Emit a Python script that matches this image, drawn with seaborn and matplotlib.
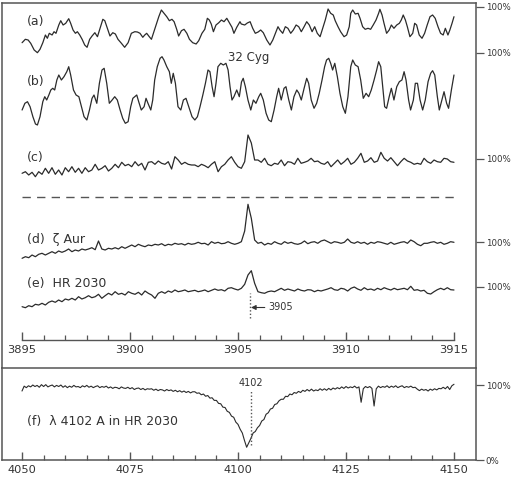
import numpy as np
import matplotlib
matplotlib.use("Agg")
import matplotlib.pyplot as plt
import seaborn as sns
from matplotlib.ticker import FixedLocator

sns.set_theme(style="white")
plt.rcParams['font.family'] = ['DejaVu Sans']

# ---- spectra (flux in %, wavelength in A) ----
# (a) 32 Cyg
wave_a = [3895.00, 3895.15, 3895.28, 3895.40, 3895.56, 3895.71, 3895.83, 3895.96,
          3896.08, 3896.17, 3896.26, 3896.39, 3896.48, 3896.57, 3896.70, 3896.79,
          3896.90, 3897.02, 3897.16, 3897.25, 3897.36, 3897.47, 3897.56, 3897.67,
          3897.78, 3897.90, 3898.01, 3898.13, 3898.24, 3898.37, 3898.49, 3898.61,
          3898.74, 3898.83, 3898.95, 3899.07, 3899.20, 3899.32, 3899.44, 3899.60,
          3899.75, 3899.91, 3900.06, 3900.22, 3900.34, 3900.46, 3900.59, 3900.68,
          3900.77, 3900.89, 3900.99, 3901.08, 3901.20, 3901.33, 3901.45, 3901.57,
          3901.70, 3901.82, 3901.94, 3902.04, 3902.16, 3902.25, 3902.38, 3902.50,
          3902.63, 3902.75, 3902.90, 3903.06, 3903.18, 3903.33, 3903.46, 3903.58,
          3903.67, 3903.76, 3903.86, 3903.98, 3904.11, 3904.23, 3904.35, 3904.48,
          3904.60, 3904.72, 3904.81, 3904.94, 3905.09, 3905.15, 3905.31, 3905.43,
          3905.56, 3905.68, 3905.80, 3905.93, 3906.05, 3906.17, 3906.33, 3906.48,
          3906.61, 3906.73, 3906.85, 3906.94, 3907.07, 3907.19, 3907.31, 3907.44,
          3907.56, 3907.69, 3907.81, 3907.93, 3908.06, 3908.18, 3908.30, 3908.43,
          3908.55, 3908.67, 3908.80, 3908.92, 3909.04, 3909.17, 3909.29, 3909.41,
          3909.50, 3909.63, 3909.75, 3909.91, 3910.03, 3910.15, 3910.22, 3910.31,
          3910.43, 3910.56, 3910.65, 3910.77, 3910.89, 3911.02, 3911.14, 3911.26,
          3911.39, 3911.51, 3911.57, 3911.67, 3911.76, 3911.88, 3912.00, 3912.10,
          3912.22, 3912.35, 3912.47, 3912.56, 3912.65, 3912.75, 3912.84, 3912.96,
          3913.09, 3913.18, 3913.27, 3913.39, 3913.52, 3913.64, 3913.76, 3913.89,
          3914.01, 3914.13, 3914.26, 3914.38, 3914.50, 3914.60, 3914.72, 3914.81,
          3914.91, 3915.00]
flux_a = [64.3, 67.7, 67, 63.7, 57, 54.3, 57.7, 64.3,
          72, 68.7, 73.7, 72, 75.3, 73.7, 82, 86.3,
          82, 83.7, 88.3, 83.7, 77, 73.7, 75.3, 72,
          67.7, 62, 59.7, 67.7, 71, 74.3, 70.3, 78.7,
          87.7, 86.3, 78.7, 71, 74.3, 73, 67.7, 63.7,
          59.7, 64.3, 73.7, 75.3, 75, 73.7, 69.7, 72,
          73.7, 70.3, 67.7, 73.7, 82, 90.3, 97, 93.7,
          90.3, 86.3, 87.7, 85.3, 77.7, 71, 76.3, 77.7,
          73.7, 67.7, 64.3, 63, 66.3, 73.7, 77.7, 88.7,
          87, 83, 75.3, 82, 84.3, 87, 85.3, 88.7,
          84.3, 79.7, 73.7, 79.7, 85.3, 83, 82, 84,
          85.3, 78.7, 73.7, 75, 77, 74.3, 67, 62,
          67, 73.7, 80.3, 77, 73.7, 80.3, 78.7, 73.7,
          77, 82, 80.3, 75.3, 80.3, 85.3, 82, 75.3,
          80.3, 73.7, 70.3, 78.7, 87, 98, 93.7, 92,
          86.3, 80.3, 75.3, 70.3, 72, 80.3, 93.7, 97,
          93, 93.7, 88.7, 80.3, 77.7, 78.7, 77.7, 82,
          87, 93.7, 97.7, 92, 83.7, 73.7, 77, 82,
          78.7, 82, 83.7, 87, 92, 87, 80.3, 70.3,
          73.7, 83.7, 82, 72, 68.7, 73.7, 82, 90.3,
          92, 88.7, 80.3, 73.7, 72, 78.7, 72, 77,
          83.7, 90.3]

# (b) 32 Cyg
wave_b = [3895.00, 3895.13, 3895.25, 3895.37, 3895.50, 3895.62, 3895.71, 3895.83,
          3895.96, 3896.05, 3896.14, 3896.24, 3896.33, 3896.42, 3896.51, 3896.61,
          3896.70, 3896.82, 3896.94, 3897.07, 3897.16, 3897.25, 3897.38, 3897.50,
          3897.63, 3897.75, 3897.87, 3898.00, 3898.12, 3898.24, 3898.33, 3898.46,
          3898.58, 3898.70, 3898.80, 3898.92, 3899.04, 3899.17, 3899.29, 3899.41,
          3899.54, 3899.66, 3899.78, 3899.91, 3900.03, 3900.13, 3900.22, 3900.31,
          3900.40, 3900.52, 3900.65, 3900.74, 3900.83, 3900.96, 3901.05, 3901.14,
          3901.26, 3901.39, 3901.48, 3901.57, 3901.70, 3901.82, 3901.91, 3902.00,
          3902.10, 3902.22, 3902.35, 3902.47, 3902.59, 3902.72, 3902.87, 3903.00,
          3903.12, 3903.24, 3903.37, 3903.49, 3903.61, 3903.70, 3903.80, 3903.89,
          3903.98, 3904.07, 3904.20, 3904.32, 3904.44, 3904.54, 3904.63, 3904.72,
          3904.81, 3904.94, 3905.06, 3905.16, 3905.24, 3905.34, 3905.46, 3905.59,
          3905.71, 3905.83, 3905.96, 3906.05, 3906.17, 3906.30, 3906.42, 3906.54,
          3906.67, 3906.79, 3906.88, 3907.00, 3907.13, 3907.22, 3907.35, 3907.47,
          3907.59, 3907.72, 3907.82, 3907.93, 3908.06, 3908.18, 3908.27, 3908.39,
          3908.52, 3908.64, 3908.76, 3908.89, 3909.01, 3909.10, 3909.20, 3909.29,
          3909.38, 3909.48, 3909.60, 3909.72, 3909.85, 3909.97, 3910.09, 3910.22,
          3910.31, 3910.43, 3910.56, 3910.68, 3910.80, 3910.93, 3911.05, 3911.17,
          3911.30, 3911.42, 3911.51, 3911.61, 3911.70, 3911.79, 3911.88, 3912.00,
          3912.10, 3912.22, 3912.35, 3912.47, 3912.59, 3912.69, 3912.78, 3912.90,
          3912.99, 3913.12, 3913.21, 3913.31, 3913.43, 3913.55, 3913.67, 3913.80,
          3913.92, 3914.01, 3914.11, 3914.23, 3914.32, 3914.44, 3914.54, 3914.66,
          3914.75, 3914.88, 3915.00]
flux_b = [43, 49.7, 51.3, 46.3, 36.3, 29, 28, 36.3,
          51.3, 56.3, 53, 58, 63, 64.7, 63, 73,
          78, 73, 76.3, 81.3, 86.3, 78, 63, 58,
          56.3, 46.3, 36.3, 33, 43, 54.7, 58, 49.7,
          69.7, 83, 84.7, 69.7, 49.7, 53, 56.3, 53,
          43, 34.7, 29.7, 31.3, 46.3, 54.7, 56.3, 58,
          51.3, 43, 46.3, 54.7, 49.7, 43, 53, 73,
          86.3, 94.7, 96.3, 93, 86.3, 81.3, 69.7, 79.7,
          69.7, 46.3, 43, 53, 54.7, 46.3, 36.3, 33,
          36.3, 46.3, 58, 69.7, 83, 81.3, 66.3, 56.3,
          69.7, 86.3, 89.7, 88, 89.7, 83, 66.3, 53,
          56.3, 63, 56.3, 71, 74.7, 66.3, 53, 43,
          53, 49.7, 56.3, 59.7, 53, 39.7, 33, 31.3,
          43, 56.3, 64.7, 53, 64.7, 66.3, 53, 43,
          56.3, 63, 59.7, 53, 64.7, 74.7, 69.7, 53,
          44.7, 49.7, 59.7, 73, 86.3, 93, 94.7, 89.7,
          83, 89.7, 76.3, 59.7, 46.3, 39.7, 56.3, 86.3,
          93, 88, 86.3, 73, 54.7, 59.7, 56.3, 63,
          73, 83, 91.3, 86.3, 66.3, 46.3, 44.7, 56.3,
          64.7, 53, 66.3, 71.3, 73, 81.3, 73, 53,
          43, 53, 69.7, 69.7, 53, 43, 53, 71.3,
          79.7, 82.3, 78, 56.3, 43, 53, 61.3, 49.7,
          44.7, 63, 78]

# (c), (d), (e) read on an even wavelength grid, 3895-3915 A
wave_cde = np.linspace(3895, 3915, 131)
flux_c = [85.7, 87.3, 84, 86.7, 82.3, 87.3, 84.7, 90.7, 85.7, 91.3,
          84.7, 89, 84, 91.3, 87.3, 92.3, 86.7, 90.7, 85.7, 91.3,
          87.3, 89, 94.7, 89, 90.7, 93.3, 88, 90.7, 94.7, 91.3,
          96.7, 93.3, 94.7, 92.3, 97.3, 93.3, 95.7, 89, 96.7, 97.3,
          94.7, 98, 95.7, 94.7, 97.3, 90, 102.3, 99, 94.7, 96.7,
          94.7, 94, 94, 92.3, 94.7, 93.3, 91.3, 94.7, 97.3, 87.3,
          92.3, 94.7, 99, 102.3, 96.7,
          92.3, 90.7, 97.3, 124, 116, 99, 99, 96.7, 100.7, 94.7,
          93.3, 95.7, 94.7, 99, 93.3, 97.3, 96.7, 94.7, 100.7, 95.7,
          96.7, 98, 100.7, 97.3, 98, 95.7, 94.7, 97.3, 92.3, 95.7,
          99, 94.7, 97.3, 100.7, 94.7, 96.7, 100.7, 105.7, 96.7, 98,
          101.3, 96.7, 98, 106.7, 100.7, 98, 101.3, 97.3, 93.3, 97.3,
          100.7, 98, 96.7, 94.7, 95.7, 94.7, 100.7, 97.3, 95.7, 99,
          97.3, 96.7, 100.7, 100, 97.3, 96.7]
flux_d = [83.7, 85.3, 84.3, 87, 85.3, 87.7, 88.7, 87, 88.7, 90.3,
          88.7, 91, 89.7, 91, 93, 90.3, 92, 91, 93, 92,
          93, 94.3, 92.3, 101, 93, 92, 93.7, 93, 94.3, 93,
          95.3, 93.7, 95.3, 97, 95.3, 97.7, 96.3, 95.3, 97, 96.3,
          97.7, 97, 98.3, 96.3, 97.7, 97, 98.7, 97.7, 98.3, 97,
          98.7, 97.7, 98.3, 99.7, 98.3, 98.7, 97, 100.3, 98.7, 99.7,
          98.3, 98.7, 100.3, 98.7, 97.7,
          98.7, 100.3, 111, 137.7, 123.7, 102, 98.7, 99.7, 97, 98.7,
          97.7, 100.3, 98.7, 97.7, 100.3, 98.7, 99.7, 98.3, 97.7, 98.7,
          101, 98.3, 99.7, 100.3, 98.7, 101, 102, 100.3, 98.7, 100.3,
          99.7, 98.7, 99.7, 103, 99.7, 98.7, 100.3, 98.7, 99.7, 97.7,
          99.7, 98.7, 100.3, 99.7, 98.7, 97.7, 99.7, 97.7, 98.7, 99.7,
          100.3, 98.7, 102, 100.3, 97.7, 96.3, 98.7, 98.7, 99.7, 100.3,
          98.7, 99.7, 97.7, 98.7, 100.3, 99.7]
flux_e = [80.3, 79.3, 81.3, 80.3, 82.7, 82, 83.7, 82, 84.7, 86,
          84.7, 87, 85.3, 88, 87, 88.7, 87, 90.3, 88, 89.3,
          91.3, 89.3, 90.3, 92.7, 88.7, 91.3, 93.7, 92, 95.3, 92.7,
          93.7, 92, 95.3, 93.7, 92.7, 94.7, 92, 96, 93.7, 92,
          88.7, 93.7, 95.3, 93.7, 96, 94.7, 97, 95.3, 96, 97,
          95.3, 96, 96.7, 95.3, 96, 97, 95.3, 96.7, 98, 96.7,
          97.3, 96, 98.7, 99.3, 98,
          97, 98.7, 102.7, 112, 116.3, 103.7, 95.3, 94.3, 93.7, 95.3,
          96, 95.3, 97, 98.7, 96.7, 98, 97, 96, 98, 96.7,
          96, 97.3, 97, 95.3, 96.7, 96, 97, 98, 99.3, 97.3,
          96.7, 98.7, 98, 96, 98.7, 100, 98, 96.7, 99.3, 97.3,
          98, 96.7, 98.7, 97.3, 99.3, 98, 97, 98.7, 97.3, 98,
          98.7, 97.3, 100.7, 96.7, 97.3, 96, 96.7, 93.7, 93, 95.3,
          97.3, 98.7, 97.3, 99.3, 97.3, 97]

# (f) H-delta in HR 2030, 4050-4150 A every 0.5 A
wave_f = np.linspace(4050, 4150, 201)
flux_f = [92, 98.5, 96.5, 99, 97.5, 100, 98, 99.5, 97, 100.5,
          98, 100.5, 97.5, 99, 100, 97.5, 99.5, 98, 100, 97,
          99, 96.5, 98.5, 97, 99.5, 97.5, 98, 96.5, 99, 97.5,
          99.5, 97, 98.5, 96.5, 98, 99, 96.5, 98, 97, 98.5,
          96, 97.5, 95.5, 97, 96.5, 95, 97.5, 96, 95.5, 97,
          95, 96.5, 94, 95.5, 96, 94, 95.5, 93.5, 95, 94.5,
          95, 93, 94.5, 92.5, 94, 93.5, 92, 94, 92.5, 93.5,
          91.5, 93, 91, 92.5, 90.5, 92, 90, 91.5, 89.5, 91,
          91, 89, 89.5, 87, 88, 85, 86, 82.5, 83, 79.5,
          79.5, 75.5, 75, 70.5, 70, 65, 63.5, 58.5, 57, 50.5,
          47.5, 41, 36, 26, 17, 23, 29, 36, 38, 43,
          46, 52, 54, 61, 63, 68, 69, 74, 75, 79,
          81, 81, 85, 84.5, 88, 87, 90, 89, 91.5, 90,
          93, 91.5, 94, 92, 94.5, 92, 93.5, 92.5, 95, 93,
          95, 93, 95.5, 93.5, 96, 94.5, 96.5, 95, 97.5, 95.5,
          98, 96, 97.5, 96.5, 98.5, 96, 97.5, 77, 95, 98,
          96.5, 98, 95.5, 72, 95, 98.5, 96.5, 98, 97, 99,
          96.5, 98.5, 97, 99, 96.5, 98, 99, 96.5, 98, 97,
          98.5, 96.5, 97, 94.5, 92.5, 94.5, 93, 94, 92, 94.5,
          93, 95, 93.5, 95.5, 95, 97, 95, 98, 94, 99,
          101]

labels_top = ["(a)", "(b)", "(c)", "(d)  ζ Aur", "(e)  HR 2030"]
mark_top = 3905.54   # dotted marker, 3905
mark_bot = 4102.9    # dotted marker, 4102

ink = "#2b2b2b"
frame = "#555555"

fig = plt.figure(figsize=(5.13, 4.79), dpi=100)
ax1 = fig.add_axes([2/513, 1 - 368/479, 474/513, 365/479])
ax2 = fig.add_axes([2/513, 1 - 460/479, 474/513, 92/479])

# vertical placement of the stacked spectra (level of 100% for each one)
levels = [361, 315, 209, 126, 81]
spectra = [(wave_a, flux_a), (wave_b, flux_b), (wave_cde, flux_c),
           (wave_cde, flux_d), (wave_cde, flux_e)]
for (wl, fl), lev in zip(spectra, levels):
    sns.lineplot(x=np.asarray(wl), y=np.asarray(fl) + lev - 100, ax=ax1,
                 color=ink, lw=0.9, estimator=None, sort=False)

ax1.set_xlim(3894.07, 3916.02)
ax1.set_ylim(0, 365)

label_y = [347, 286, 210, 129, 84]
for txt, ly in zip(labels_top, label_y):
    ax1.text(3895.23, ly, txt, fontsize=9, color="#333333", va="center", ha="left")
ax1.text(3904.54, 310, "32 Cyg", fontsize=8.5, color="#333333", va="center", ha="left")

ax1.hlines(171, 3895, 3915, colors="#555555", lw=1.0, linestyles=(0, (6, 4.5)))
ax1.vlines(mark_top, 50, 75, colors="#555555", lw=1.0, linestyles=(0, (1, 1.5)))
ax1.annotate("3905", xy=(mark_top + 0.06, 60.5), xytext=(3906.39, 60.5),
             fontsize=7, color="#333333", va="center", ha="left",
             arrowprops=dict(arrowstyle="-|>", color="#333333", lw=0.8,
                             shrinkA=0, shrinkB=0, mutation_scale=7))

# inner wavelength axis of the upper panel
ax1.spines["bottom"].set_position(("data", 28))
ax1.spines["bottom"].set_bounds(3895, 3915)
ax1.xaxis.set_major_locator(FixedLocator([3895, 3900, 3905, 3910, 3915]))
ax1.xaxis.set_minor_locator(FixedLocator([w for w in range(3896, 3915) if w % 5]))
ax1.yaxis.tick_right()
ax1.set_yticks(levels)
ax1.set_yticklabels(["100%"] * len(levels))

ax2_lines = sns.lineplot(x=wave_f, y=np.asarray(flux_f), ax=ax2, color=ink,
                         lw=0.8, estimator=None, sort=False)
ax2.set_xlim(4045.37, 4155.09)
ax2.set_ylim(0, 122.7)
ax2.vlines(mark_bot, 20, 93, colors="#555555", lw=1.0, linestyles=(0, (1, 1.5)))
ax2.text(mark_bot, 102.7, "4102", fontsize=7, color="#333333", ha="center", va="center")
ax2.text(4051.16, 52, "(f)  λ 4102 A in HR 2030", fontsize=9, color="#333333",
         va="center", ha="left")
ax2.xaxis.set_major_locator(FixedLocator([4050, 4075, 4100, 4125, 4150]))
ax2.xaxis.set_minor_locator(FixedLocator([w for w in range(4055, 4150, 5) if w % 25]))
ax2.yaxis.tick_right()
ax2.set_yticks([0, 100])
ax2.set_yticklabels(["0%", "100%"])

for ax in (ax1, ax2):
    ax.set_xlabel("")
    ax.set_ylabel("")
    ax.set_facecolor("white")
    for s in ax.spines.values():
        s.set_visible(True)
        s.set_color(frame)
        s.set_linewidth(1.1)
    ax.tick_params(axis="x", which="major", direction="in", length=6, width=1.0,
                   color=frame, pad=3.5, labelsize=8.2, labelcolor="#333333",
                   bottom=True, top=False)
    ax.tick_params(axis="x", which="minor", direction="in", length=3.6, width=0.9,
                   color=frame, bottom=True, top=False)
    ax.tick_params(axis="y", which="major", direction="out", length=5.5, width=0.9,
                   color=frame, pad=1.5, labelsize=6.2, labelcolor="#333333",
                   left=False, right=True)
    ax.grid(False)
ax1.spines["bottom"].set_linewidth(1.0)

fig.savefig("out.png", dpi=100)
